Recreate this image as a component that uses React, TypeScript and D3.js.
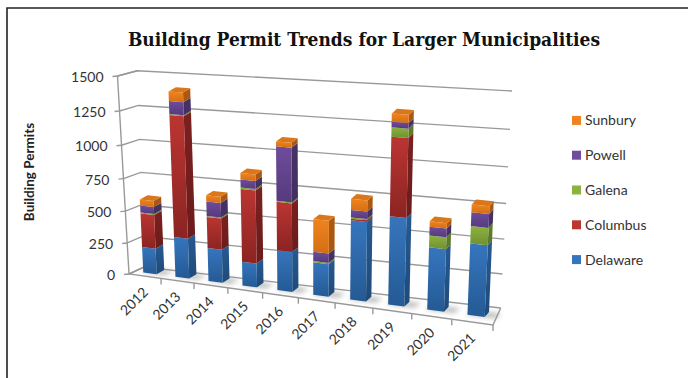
import React from "react";
import * as d3 from "d3";

const years = ["2012", "2013", "2014", "2015", "2016", "2017", "2018", "2019", "2020", "2021"];
const delaware = [205, 315, 260, 186, 307, 248, 592, 650, 459, 519];
const columbus = [265, 915, 240, 552, 363, 0, 12, 555, 0, 0];
const galena = [8, 8, 8, 10, 7, 10, 9, 63, 85, 122];
const powell = [55, 92, 110, 59, 394, 71, 54, 37, 62, 97];
const sunbury = [45, 68, 46, 48, 34, 242, 80, 56, 38, 54];
const valueTicks = [0, 250, 500, 750, 1000, 1250, 1500];

const seriesNames = ["Delaware", "Columbus", "Galena", "Powell", "Sunbury"];
const seriesValues = [delaware, columbus, galena, powell, sunbury];
const palette = [
  { top: "#3675bd", bottom: "#245a94", side: "#1f4a78", sideTop: "#265a92", cap: "#3f80c8" },
  { top: "#bb3532", bottom: "#8a2422", side: "#6b1c1b", sideTop: "#7a2120", cap: "#c44" },
  { top: "#8cb23f", bottom: "#6f9130", side: "#5a7627", sideTop: "#5f7e2a", cap: "#9cc24d" },
  { top: "#6f4c9c", bottom: "#553a7b", side: "#433060", sideTop: "#463265", cap: "#7e5bab" },
  { top: "#f0831f", bottom: "#d36f14", side: "#a9570f", sideTop: "#ad5a10", cap: "#d9771a" },
];

type Pt = [number, number];

// Corners of the 3D plot box on screen.
const floor = { fl: [129, 274] as Pt, fr: [493, 325] as Pt, br: [500.7, 308] as Pt, bl: [144, 267] as Pt };
const ceil = { fl: [117.5, 76] as Pt, fr: [502, 106] as Pt, br: [512, 91] as Pt, bl: [137.3, 70.7] as Pt };

// Foreshortening of a unit coordinate, as a perspective camera would give.
const warp = (k: number) => (t: number) => (t * (1 + k)) / (1 + k * t);
const warpU = warp(-0.13);
const warpV = warp(-0.07);

const valueScale = d3.scaleLinear().domain([0, 1500]).range([0, 1]);
const bandScale = d3.scaleBand<string>().domain(years).range([0, 1]).paddingInner(0.58).paddingOuter(0.27);

const lerp = (a: Pt, b: Pt, t: number): Pt => [a[0] + (b[0] - a[0]) * t, a[1] + (b[1] - a[1]) * t];

function project(u: number, w: number, value: number): Pt {
  const uu = warpU(u);
  const base = lerp(lerp(floor.fl, floor.fr, uu), lerp(floor.bl, floor.br, uu), w);
  const roof = lerp(lerp(ceil.fl, ceil.fr, uu), lerp(ceil.bl, ceil.br, uu), w);
  return lerp(base, roof, warpV(valueScale(value)));
}

// Columns stand at a fixed depth; their back edge is the front edge plus this offset.
const DEPTH_FRONT = 0.38;
const columnFront = (u: number, value: number) => project(u, DEPTH_FRONT, value);
function columnBack(u: number, value: number): Pt {
  const p = columnFront(u, value);
  return [p[0] + 7.8 - 3.6 * u, p[1] - 4.2 - 0.8 * u];
}

const poly = (pts: Pt[]) => d3.line()(pts) + "Z";
const labelFont = "Lato, 'Open Sans', sans-serif";

export default function App() {
  const stacks = years.map((year, i) => {
    let acc = 0;
    return {
      year,
      segments: seriesValues.map((vals, s) => {
        const from = acc;
        acc += vals[i];
        return { s, from, to: acc, value: vals[i] };
      }),
    };
  });

  return (
    <svg width={688} height={378} style={{ position: "absolute", left: 0, top: 0, background: "#fff" }}>
      <defs>
        {palette.map((c, i) => (
          <React.Fragment key={i}>
            <linearGradient id={`seg${i}`} x1="0" y1="0" x2="0" y2="1">
              <stop offset="0" stopColor={c.top} />
              <stop offset="1" stopColor={c.bottom} />
            </linearGradient>
            <linearGradient id={`side${i}`} x1="0" y1="0" x2="0" y2="1">
              <stop offset="0" stopColor={c.sideTop} />
              <stop offset="1" stopColor={c.side} />
            </linearGradient>
          </React.Fragment>
        ))}
        <filter id="soft" x="-60%" y="-60%" width="220%" height="220%">
          <feGaussianBlur stdDeviation="2.4" />
        </filter>
      </defs>

      <path d="M7,378V8H688" fill="none" stroke="#222" strokeWidth={1.6} />

      <text x={364} y={46} textAnchor="middle" fontFamily="'DejaVu Serif', serif" fontStretch="condensed" fontWeight={700} fontSize={19} fill="#111">
        Building Permit Trends for Larger Municipalities
      </text>

      <text transform="translate(33.5,172) rotate(-90)" textAnchor="middle" fontFamily={labelFont} fontWeight={700} fontSize={13.5} fill="#222">
        Building Permits
      </text>

      {/* Walls and floor */}
      <g fill="none" stroke="#999" strokeWidth={1.4}>
        <path d={d3.line()([project(0, 0, 0), project(0, 0, 1500), project(0, 1, 1500)]) ?? ""} />
        <path d={d3.line()([project(0, 1, 0), project(0, 0, 0), project(1, 0, 0), project(1, 1, 0)]) ?? ""} />
        {valueTicks.map((v) => (
          <g key={v}>
            <path d={d3.line()([project(0, 0, v), project(0, 1, v), project(1, 1, v)]) ?? ""} />
            <path d={d3.line()([project(0, 0, v), [project(0, 0, v)[0] - 5, project(0, 0, v)[1] + 0.5]]) ?? ""} />
          </g>
        ))}
        {years.map((_, i) => {
          const u = (i + 1) / years.length;
          const p = project(u, 0, 0);
          return <path key={i} d={d3.line()([p, [p[0], p[1] + 6]]) ?? ""} />;
        })}
      </g>

      {valueTicks.map((v) => {
        const p = project(0, 0, v);
        return (
          <text key={v} x={p[0] - 14} y={p[1] + 6} textAnchor="end" fontFamily={labelFont} fontSize={14} fill="#333">
            {v}
          </text>
        );
      })}

      {years.map((y, i) => {
        const u = (i + 0.5) / years.length;
        const p = project(u, 0, 0);
        return (
          <text key={y} transform={`translate(${p[0] + 4},${p[1] + 17}) rotate(-45)`} textAnchor="end" fontFamily={labelFont} fontSize={14} fill="#333">
            {y}
          </text>
        );
      })}

      {/* Stacked columns */}
      {stacks.map(({ year, segments }) => {
        const u0 = bandScale(year)!;
        const u1 = u0 + bandScale.bandwidth();
        const total = segments[segments.length - 1].to;
        const shadow = [columnFront(u0 - 0.005, 0), columnFront(u1 + 0.025, 0), columnBack(u1 + 0.03, 0), columnBack(u0, 0)];
        return (
          <g key={year}>
            <path d={poly(shadow)} fill="#8e8e8e" opacity={0.6} filter="url(#soft)" />
            {segments.filter((d) => d.value > 0).map((d) => (
              <g key={d.s}>
                <path
                  d={poly([columnFront(u1, d.from), columnBack(u1, d.from), columnBack(u1, d.to), columnFront(u1, d.to)])}
                  fill={`url(#side${d.s})`}
                />
                <path
                  d={poly([columnFront(u0, d.from), columnFront(u1, d.from), columnFront(u1, d.to), columnFront(u0, d.to)])}
                  fill={`url(#seg${d.s})`}
                />
              </g>
            ))}
            <path
              d={poly([columnFront(u0, total), columnFront(u1, total), columnBack(u1, total), columnBack(u0, total)])}
              fill={palette[4].cap}
            />
          </g>
        );
      })}

      {/* Legend */}
      {[...seriesNames].reverse().map((name, i) => {
        const c = palette[seriesNames.length - 1 - i];
        const y = 120.4 + i * 34.8;
        return (
          <g key={name}>
            <rect x={572} y={y - 4.5} width={9} height={9} fill={c.top} />
            <text x={585} y={y + 5} fontFamily={labelFont} fontSize={14} fill="#333">
              {name}
            </text>
          </g>
        );
      })}
    </svg>
  );
}
